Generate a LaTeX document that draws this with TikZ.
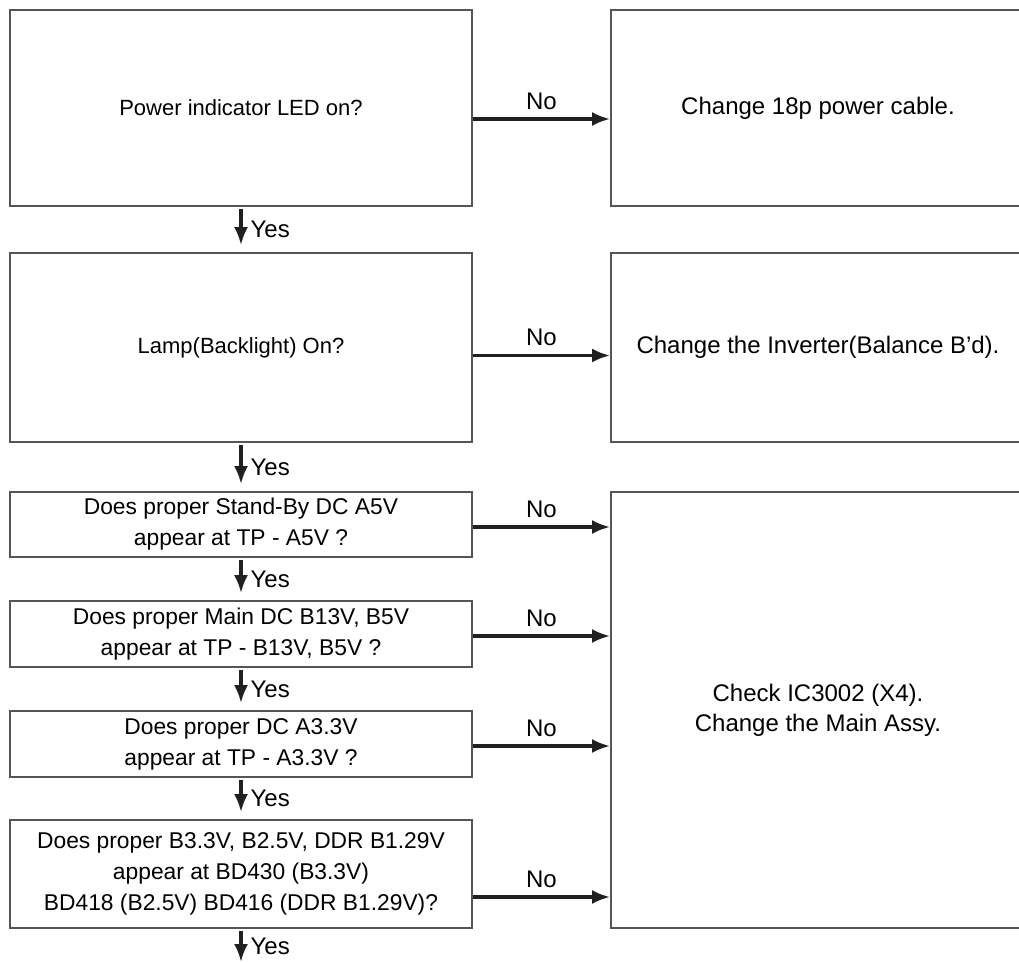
\documentclass[tikz,border=0pt]{standalone}
\usepackage{fontspec}
\setmainfont{Liberation Sans}
\usetikzlibrary{arrows.meta,positioning,calc}
\definecolor{boxgray}{RGB}{85,85,85}
\definecolor{inkblack}{RGB}{35,31,32}

\begin{document}
\begin{tikzpicture}[x=0.5pt, y=-0.5pt,
    block/.style={rectangle, draw=boxgray, line width=0.9pt, inner sep=2pt, align=center, font=\fontsize{11.4}{15.5}\selectfont, minimum width=231pt},
    side/.style={block, minimum width=207pt, font=\fontsize{12}{15}\selectfont},
    arrow/.style={-{Latex[length=9pt,width=7pt]}, line width=1.6pt, draw=inkblack},
    yes/.style={arrow, shorten <=1pt, shorten >=3.5pt},
    lab/.style={font=\fontsize{12}{14}\selectfont, inner sep=4pt}]

    \path[use as bounding box, clip] (0,0) rectangle (1019,963);

    % Left column: checks
    \node[block, minimum height=98pt, font=\fontsize{11}{15}\selectfont] (b1) at (241,108) {Power indicator LED on?};
    \node[block, minimum height=94.5pt, font=\fontsize{11}{15}\selectfont] (b2) at (241,347.5) {Lamp(Backlight) On?};
    \node[block, minimum height=32.5pt] (b3) at (241,524.5) {Does proper Stand-By DC A5V\\appear at TP - A5V ?};
    \node[block, minimum height=33pt] (b4) at (241,634) {Does proper Main DC B13V, B5V\\appear at TP - B13V, B5V ?};
    \node[block, minimum height=33pt] (b5) at (241,744) {Does proper DC A3.3V\\appear at TP - A3.3V ?};
    \node[block, minimum height=54pt] (b6) at (241,874) {Does proper B3.3V, B2.5V, DDR B1.29V\\appear at BD430 (B3.3V)\\BD418 (B2.5V) BD416 (DDR B1.29V)?};
    \coordinate (end) at (241,963);

    % Right column: actions
    \node[side, minimum height=98pt] (r1) at (818,108) {Change 18p power cable.};
    \node[side, minimum height=94.5pt] (r2) at (818,347.5) {Change the Inverter(Balance B'd).};
    \node[side, minimum height=218pt] (r3) at (818,710) {Check IC3002 (X4).\\Change the Main Assy.};

    % Yes arrows
    \draw[yes] (b1) -- (b2) node[lab, midway, right] {Yes};
    \draw[yes] (b2) -- (b3) node[lab, midway, right] {Yes};
    \draw[yes] (b3) -- (b4) node[lab, midway, right] {Yes};
    \draw[yes] (b4) -- (b5) node[lab, midway, right] {Yes};
    \draw[yes] (b5) -- (b6) node[lab, midway, right] {Yes};
    \draw[yes, shorten >=0.5pt] (b6) -- (end) node[lab, midway, right] {Yes};

    % No arrows
    \coordinate (n1) at ($(b1.east)+(0,11)$);
    \coordinate (n2) at ($(b2.east)+(0,8)$);
    \coordinate (n3) at ($(b3.east)+(0,2.5)$);
    \coordinate (n4) at ($(b4.east)+(0,2)$);
    \coordinate (n5) at ($(b5.east)+(0,2)$);
    \coordinate (n6) at ($(b6.east)+(0,23)$);
    \draw[arrow] (n1) -- (n1 -| r1.west) node[lab, midway, above] {No};
    \draw[arrow] (n2) -- (n2 -| r2.west) node[lab, midway, above] {No};
    \draw[arrow] (n3) -- (n3 -| r3.west) node[lab, midway, above] {No};
    \draw[arrow] (n4) -- (n4 -| r3.west) node[lab, midway, above] {No};
    \draw[arrow] (n5) -- (n5 -| r3.west) node[lab, midway, above] {No};
    \draw[arrow] (n6) -- (n6 -| r3.west) node[lab, midway, above] {No};
\end{tikzpicture}
\end{document}
